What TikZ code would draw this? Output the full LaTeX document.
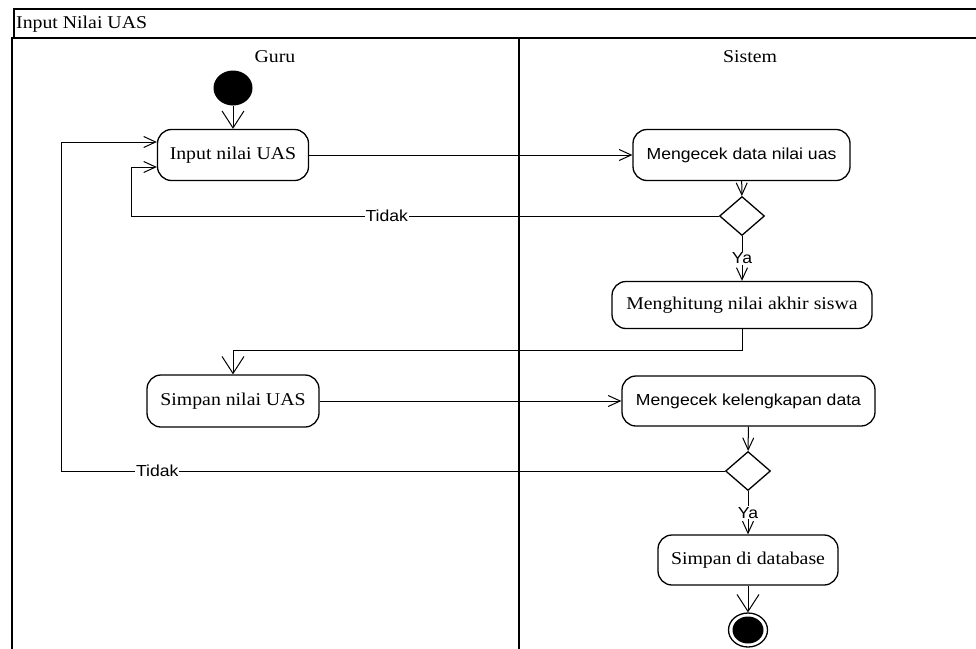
\documentclass[tikz,border=0pt]{standalone}
\usepackage{fontspec}
\setmainfont{Liberation Serif}[FakeStretch=1.1]
\setsansfont{Liberation Sans}[FakeStretch=1.1]
\usetikzlibrary{arrows.meta,shapes.geometric}

\tikzset{
  frame/.style={line width=1.8pt},
  action/.style={draw, line width=1.3pt, rounded corners=14pt, inner sep=0pt, align=center},
  serifact/.style={action, font=\fontsize{18}{20}\selectfont},
  sansact/.style={action, font=\sffamily\fontsize{16}{18}\selectfont},
  decision/.style={draw, line width=1.3pt, diamond, inner sep=0pt, minimum width=45pt, minimum height=39pt},
  lanetitle/.style={font=\fontsize{18}{20}\selectfont, inner sep=0pt},
  lbl/.style={font=\sffamily\fontsize{16}{18}\selectfont, fill=white, inner sep=1pt},
  flow/.style={line width=1pt},
  bigtip/.style={flow, -{Straight Barb[length=17pt, width=22pt, line width=1pt]}},
  smalltip/.style={flow, -{Straight Barb[length=12pt, width=11pt, line width=1pt]}},
}

\begin{document}
\begin{tikzpicture}[x=1pt, y=-1pt]
  \useasboundingbox (0,0) rectangle (976,648);

  % activity frame, title bar and swimlane divider
  \draw[frame] (14,38) -- (14,9) -- (978,9);
  \draw[frame] (12,650) -- (12,38) -- (978,38);
  \draw[frame] (519,38) -- (519,650);
  \node[lanetitle, anchor=west] (title) at (16,24) {Input Nilai UAS};
  \node[lanetitle] (guru) at (275,57) {Guru};
  \node[lanetitle] (sistem) at (750,57) {Sistem};

  % start node
  \node[ellipse, fill=black, minimum width=39pt, minimum height=35pt, inner sep=0pt] (start) at (233,88) {};

  % actions
  \node[serifact, minimum width=151pt, minimum height=51pt] (input) at (233,155) {Input nilai UAS};
  \node[sansact, minimum width=217pt, minimum height=51pt] (cek1) at (741.5,155) {Mengecek data nilai uas};
  \node[decision] (d1) at (742,216) {};
  \node[serifact, minimum width=260pt, minimum height=47pt] (hitung) at (742,305) {Menghitung nilai akhir siswa};
  \node[serifact, minimum width=172pt, minimum height=52pt] (simpan) at (233,401) {Simpan nilai UAS};
  \node[sansact, minimum width=253pt, minimum height=50pt] (cek2) at (748.5,401) {Mengecek kelengkapan data};
  \node[decision] (d2) at (748,471) {};
  \node[serifact, minimum width=180pt, minimum height=50pt] (db) at (748,560) {Simpan di database};

  % final node
  \node[ellipse, draw, line width=1.3pt, fill=white, minimum width=39pt, minimum height=34pt, inner sep=0pt] (finish) at (748,630) {};
  \node[ellipse, fill=black, minimum width=31pt, minimum height=27pt, inner sep=0pt] (finishdot) at (748,630) {};

  % loop-back corners
  \coordinate (t1) at (131,167);
  \coordinate (t2) at (61,142);

  % control flows
  \draw[bigtip] (start) -- (input);
  \draw[smalltip] (input) -- (cek1);
  \draw[smalltip] (cek1) -- (d1);
  \draw[smalltip] (d1) -- node[lbl, pos=0.5] {Ya} (hitung);
  \draw[smalltip] (d1.west) -- node[lbl, pos=0.565] {Tidak} (t1 |- d1.west) -- (t1) -- (input.west |- t1);
  \draw[bigtip] (hitung.south) -- ++(0,21) -| (simpan.north);
  \draw[smalltip] (simpan) -- (cek2);
  \draw[smalltip] (cek2) -- (d2);
  \draw[smalltip] (d2) -- node[lbl, pos=0.5] {Ya} (db);
  \draw[smalltip] (d2.west) -- node[lbl, pos=0.855] {Tidak} (t2 |- d2.west) -- (t2) -- (input.west |- t2);
  \draw[bigtip] (db) -- (finish);
\end{tikzpicture}
\end{document}
